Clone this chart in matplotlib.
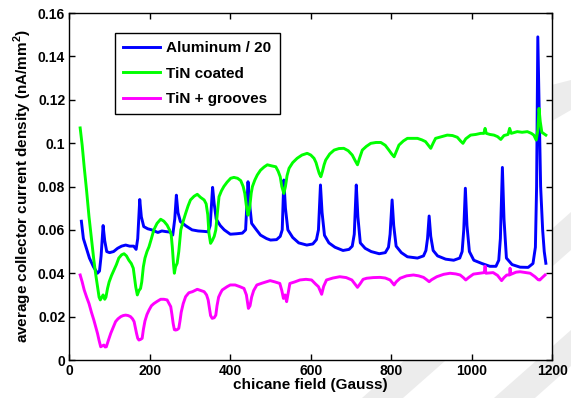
import matplotlib
matplotlib.use("Agg")
import matplotlib.pyplot as plt
from matplotlib.patches import Polygon

# ---------------- data ----------------
al_x = [30, 35, 40, 50, 60, 70, 75, 79, 84, 88, 93, 100, 110, 120, 130, 140, 150, 160, 166, 170,
        175, 179, 185, 195, 205, 220, 230, 240, 250, 257, 262, 266, 270, 276, 290, 305, 320, 335,
        345, 350, 356, 360, 365, 375, 385, 400, 415, 430, 438, 444, 448, 453, 465, 475, 490, 500,
        515, 524, 529, 533, 537, 543, 555, 570, 590, 605, 614, 619, 624, 628, 634, 645, 660, 680,
        695, 703, 708, 713, 717, 723, 735, 750, 770, 785, 793, 797, 802, 806, 812, 825, 840, 865,
        880, 886, 890, 894, 898, 904, 915, 935, 955, 970, 976, 980, 984, 988, 994, 1005, 1025,
        1045, 1060, 1067, 1071, 1076, 1080, 1086, 1100, 1120, 1140, 1152, 1158, 1161, 1164, 1167,
        1171, 1176, 1180, 1184]
al_y = [0.064, 0.056, 0.053, 0.047, 0.043, 0.040, 0.041, 0.048, 0.062, 0.055, 0.050, 0.0495,
        0.050, 0.0515, 0.0525, 0.053, 0.0525, 0.0525, 0.051, 0.056, 0.074, 0.066, 0.0615, 0.0605,
        0.060, 0.0588, 0.0595, 0.0592, 0.059, 0.0576, 0.065, 0.076, 0.068, 0.0638, 0.0618, 0.060,
        0.0595, 0.0593, 0.0591, 0.062, 0.0796, 0.072, 0.065, 0.062, 0.060, 0.058, 0.0582, 0.0585,
        0.060, 0.0822, 0.072, 0.063, 0.060, 0.0576, 0.056, 0.0553, 0.0555, 0.057, 0.060, 0.083,
        0.070, 0.060, 0.0565, 0.054, 0.053, 0.0535, 0.0555, 0.060, 0.0807, 0.068, 0.0575, 0.054,
        0.052, 0.0505, 0.051, 0.0525, 0.058, 0.0807, 0.066, 0.054, 0.0515, 0.050, 0.049, 0.0495,
        0.052, 0.058, 0.0738, 0.062, 0.0525, 0.0495, 0.0476, 0.047, 0.048, 0.0505, 0.056, 0.0664,
        0.057, 0.0505, 0.048, 0.0465, 0.046, 0.047, 0.050, 0.060, 0.0792, 0.062, 0.050, 0.046,
        0.0445, 0.0432, 0.0432, 0.046, 0.056, 0.0888, 0.065, 0.047, 0.044, 0.0428, 0.0427, 0.0445,
        0.052, 0.080, 0.149, 0.120, 0.080, 0.060, 0.050, 0.0446]

tin_x = [27, 32, 37, 43, 49, 55, 61, 66, 70, 74, 77, 81, 84, 88, 91, 95, 99, 105, 111, 117, 123,
         130, 136, 142, 148, 154, 159, 162, 165, 169, 173, 177, 180, 184, 188, 193, 198, 204, 210,
         218, 227, 235, 243, 249, 253, 256, 259, 261, 264, 268, 272, 277, 283, 289, 295, 301, 310,
         318, 326, 335, 340, 344, 347, 351, 355, 360, 364, 368, 372, 378, 384, 392, 401, 409, 418,
         426, 432, 436, 440, 444, 448, 452, 455, 461, 467, 475, 484, 492, 503, 513, 519, 524, 528,
         533, 537, 541, 546, 555, 566, 578, 591, 600, 608, 613, 617, 621, 625, 629, 633, 637, 647,
         658, 670, 682, 693, 703, 710, 716, 721, 728, 738, 749, 762, 774, 785, 794, 801, 807, 812,
         819, 830, 840, 852, 865, 876, 885, 892, 898, 904, 910, 925, 939, 952, 964, 972, 978, 985,
         997, 1010, 1022, 1030, 1033, 1036, 1045, 1055, 1064, 1072, 1080, 1090, 1094, 1098, 1113,
         1125, 1138, 1148, 1154, 1160, 1164, 1167, 1170, 1174, 1178, 1184]
tin_y = [0.107, 0.099, 0.089, 0.078, 0.066, 0.056, 0.046, 0.039, 0.034, 0.029, 0.0277, 0.029,
         0.030, 0.028, 0.029, 0.033, 0.036, 0.039, 0.0415, 0.044, 0.047, 0.0485, 0.049, 0.048,
         0.046, 0.0445, 0.0423, 0.038, 0.0338, 0.030, 0.032, 0.033, 0.036, 0.043, 0.047, 0.050,
         0.0522, 0.056, 0.060, 0.063, 0.0649, 0.064, 0.0622, 0.060, 0.058, 0.052, 0.044, 0.040,
         0.043, 0.0446, 0.050, 0.060, 0.064, 0.0676, 0.071, 0.0738, 0.0755, 0.0764, 0.075, 0.0738,
         0.072, 0.067, 0.0584, 0.0538, 0.055, 0.057, 0.060, 0.068, 0.0753, 0.078, 0.080, 0.082,
         0.0838, 0.0842, 0.0838, 0.0827, 0.080, 0.0768, 0.071, 0.0668, 0.070, 0.077, 0.080, 0.083,
         0.0853, 0.0875, 0.089, 0.090, 0.0895, 0.0891, 0.087, 0.0845, 0.080, 0.0768, 0.080, 0.085,
         0.0884, 0.091, 0.093, 0.0945, 0.0953, 0.0945, 0.093, 0.091, 0.0884, 0.086, 0.0845, 0.087,
         0.090, 0.0922, 0.095, 0.0968, 0.0975, 0.0976, 0.0965, 0.0945, 0.092, 0.090, 0.093, 0.0968,
         0.0985, 0.0999, 0.1003, 0.1003, 0.099, 0.0968, 0.095, 0.0937, 0.096, 0.0991, 0.101,
         0.1022, 0.1022, 0.1022, 0.1015, 0.1007, 0.099, 0.0976, 0.100, 0.1022, 0.103, 0.1037,
         0.1035, 0.1027, 0.101, 0.0999, 0.102, 0.1037, 0.104, 0.1045, 0.1045, 0.1068, 0.1045,
         0.104, 0.1037, 0.103, 0.1017, 0.1035, 0.104, 0.1068, 0.1045, 0.1053, 0.105, 0.1053,
         0.1045, 0.1037, 0.1014, 0.106, 0.116, 0.110, 0.105, 0.1045, 0.1037]

grv_x = [27, 32, 37, 43, 49, 55, 61, 66, 70, 74, 78, 82, 86, 89, 92, 97, 103, 109, 115, 121, 128,
         134, 140, 146, 152, 157, 161, 164, 167, 170, 173, 177, 181, 184, 188, 193, 198, 204, 210,
         218, 227, 235, 243, 248, 252, 255, 258, 261, 264, 268, 272, 275, 278, 283, 289, 297, 306,
         318, 327, 335, 341, 345, 348, 351, 355, 360, 364, 367, 371, 376, 380, 392, 400, 412, 424,
         434, 440, 445, 449, 453, 458, 466, 480, 499, 511, 523, 528, 532, 536, 540, 544, 548, 560,
         573, 588, 602, 612, 619, 623, 627, 632, 639, 655, 672, 688, 702, 710, 716, 722, 730, 739,
         755, 772, 785, 797, 803, 807, 812, 822, 838, 855, 868, 880, 888, 894, 900, 913, 930, 946,
         960, 971, 979, 985, 992, 1004, 1020, 1031, 1033, 1035, 1053, 1064, 1074, 1080, 1087, 1094,
         1095, 1097, 1110, 1120, 1135, 1145, 1157, 1165, 1169, 1175, 1182]
grv_y = [0.0392, 0.036, 0.0323, 0.029, 0.026, 0.022, 0.0184, 0.015, 0.0123, 0.009, 0.0061,
         0.0065, 0.0069, 0.006, 0.0061, 0.009, 0.0123, 0.015, 0.0177, 0.019, 0.020, 0.0205, 0.0207,
         0.0205, 0.020, 0.019, 0.0177, 0.015, 0.0123, 0.010, 0.0092, 0.0095, 0.010, 0.014, 0.018,
         0.021, 0.023, 0.025, 0.026, 0.027, 0.028, 0.028, 0.0277, 0.026, 0.0246, 0.021, 0.0169,
         0.014, 0.0138, 0.014, 0.0146, 0.018, 0.022, 0.026, 0.0292, 0.031, 0.0315, 0.0326, 0.032,
         0.0315, 0.030, 0.0277, 0.024, 0.0205, 0.0192, 0.0195, 0.0207, 0.025, 0.029, 0.031, 0.0323,
         0.0338, 0.0346, 0.0346, 0.0338, 0.033, 0.030, 0.0238, 0.025, 0.029, 0.032, 0.0346, 0.0355,
         0.0366, 0.036, 0.0353, 0.032, 0.0284, 0.030, 0.0269, 0.031, 0.0353, 0.036, 0.0369, 0.0372,
         0.0369, 0.035, 0.0338, 0.032, 0.0303, 0.034, 0.0369, 0.0378, 0.0384, 0.038, 0.0369, 0.035,
         0.0335, 0.035, 0.0372, 0.0377, 0.038, 0.0381, 0.0378, 0.0369, 0.0355, 0.0346, 0.036,
         0.0377, 0.0388, 0.0392, 0.0388, 0.0381, 0.037, 0.0361, 0.037, 0.0384, 0.0395, 0.040,
         0.0397, 0.0392, 0.038, 0.0369, 0.038, 0.0396, 0.040, 0.0403, 0.0433, 0.040, 0.0403, 0.039,
         0.0366, 0.038, 0.0392, 0.0392, 0.0423, 0.0395, 0.0405, 0.0407, 0.0403, 0.040, 0.0384,
         0.037, 0.0369, 0.038, 0.0392]

series_labels = ["Aluminum / 20", "TiN coated", "TiN + grooves"]
x_ticks = [0, 200, 400, 600, 800, 1000, 1200]
y_ticks = [0, 0.02, 0.04, 0.06, 0.08, 0.1, 0.12, 0.14, 0.16]
y_tick_labels = ["0", "0.02", "0.04", "0.06", "0.08", "0.1", "0.12", "0.14", "0.16"]
x_label = "chicane field (Gauss)"
y_label = "average collector current density (nA/mm$^{\\mathbf{2}}$)"

# ---------------- figure ----------------
plt.rcParams['font.family'] = ['Liberation Sans', 'DejaVu Sans']
plt.rcParams['font.weight'] = 'bold'
plt.rcParams['mathtext.fontset'] = 'custom'
plt.rcParams['mathtext.bf'] = 'Liberation Sans:bold'
plt.rcParams['mathtext.rm'] = 'Liberation Sans:bold'

W, H = 571, 398
fig = plt.figure(figsize=(W / 100, H / 100), dpi=100)

# faint slide-watermark bands (pixel coords, y down)
wm_color = '#ececec'
bands = [
    [(571, 212), (571, 250), (403, 398), (362, 398)],
    [(571, 330), (571, 366), (535, 398), (494, 398)],
    [(571, 80), (571, 110), (540, 128), (540, 88)],
]
for b in bands:
    pts = [(x / W, 1 - y / H) for x, y in b]
    fig.patches.append(Polygon(pts, closed=True, transform=fig.transFigure,
                               facecolor=wm_color, edgecolor='none', zorder=-5))

ax = fig.add_axes([69.3 / W, 1 - 360 / H, 483 / W, 347 / H])
ax.set_facecolor('white')

lw = 2.1
ax.plot(al_x, al_y, color='#0000ff', lw=lw, label=series_labels[0])
ax.plot(tin_x, tin_y, color='#00ff00', lw=lw, label=series_labels[1])
ax.plot(grv_x, grv_y, color='#ff00ff', lw=lw, label=series_labels[2])

ax.set_xlim(0, 1200)
ax.set_ylim(0, 0.16)
ax.set_xticks(x_ticks)
ax.set_xticklabels([str(t) for t in x_ticks])
ax.set_yticks(y_ticks)
ax.set_yticklabels(y_tick_labels)
ax.tick_params(direction='in', length=4, width=1, top=True, right=True,
               labelsize=10, pad=3)
for s in ax.spines.values():
    s.set_linewidth(1.0)

ax.set_xlabel(x_label, fontsize=11, fontweight='bold', labelpad=0)
ax.set_ylabel(y_label, fontsize=11, fontweight='bold', labelpad=3)

leg = ax.legend(loc='upper left', bbox_to_anchor=((115 - 69.3) / 483, (360 - 32.7) / 347),
                borderaxespad=0, fontsize=11, handlelength=2.4, handletextpad=0.4,
                labelspacing=0.75, borderpad=0.55, fancybox=False, framealpha=1,
                edgecolor='black')
leg.get_frame().set_linewidth(1.0)
for t in leg.get_texts():
    t.set_fontweight('bold')

fig.savefig('out.png', dpi=100)
